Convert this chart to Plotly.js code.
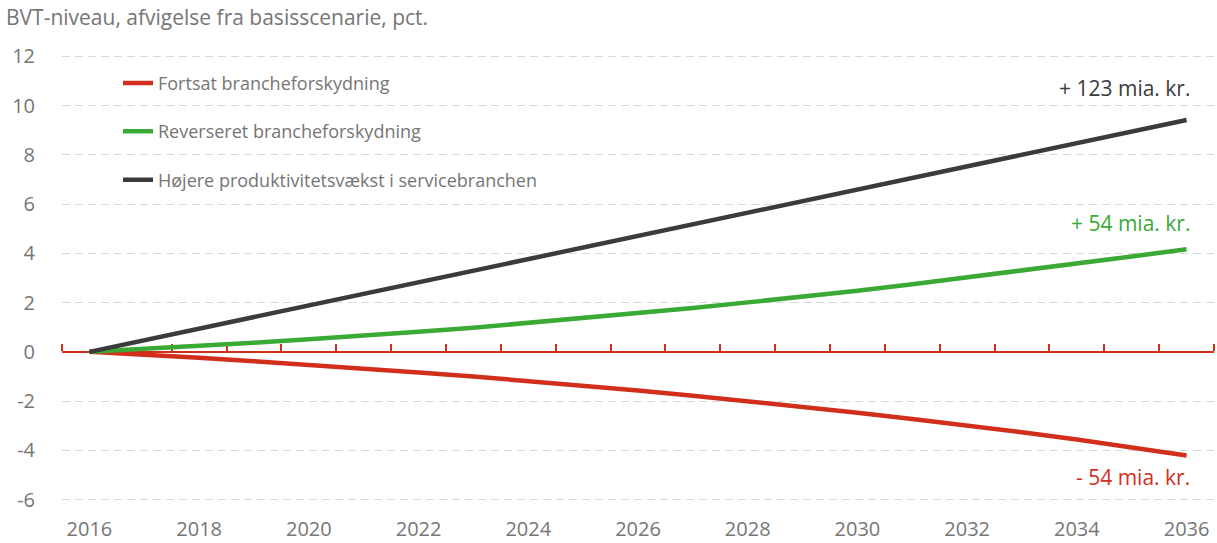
<!DOCTYPE html>
<html>
<head>
<meta charset="utf-8">
<script src="https://cdn.plot.ly/plotly-3.0.1.min.js"></script>
<style>
  html, body { margin: 0; padding: 0; background: #fff; }
  #plot_div { width: 1217px; height: 543px; }
</style>
</head>
<body>
<div id="plot_div"></div>
<script>
// years on the x axis
const years = [2016, 2017, 2018, 2019, 2020, 2021, 2022, 2023, 2024, 2025, 2026,
               2027, 2028, 2029, 2030, 2031, 2032, 2033, 2034, 2035, 2036];

// BVT-niveau, afvigelse fra basisscenarie (pct.)
const fortsat = [0, -0.11, -0.24, -0.38, -0.52, -0.67, -0.84, -1.00, -1.18, -1.37, -1.57,
                 -1.78, -2.00, -2.23, -2.47, -2.73, -2.99, -3.27, -3.56, -3.88, -4.21];
const reverseret = [0, 0.11, 0.24, 0.37, 0.51, 0.65, 0.82, 0.98, 1.17, 1.36, 1.57,
                    1.78, 2.01, 2.24, 2.48, 2.75, 3.02, 3.30, 3.58, 3.87, 4.17];
const produktivitet = [0, 0.47, 0.94, 1.41, 1.88, 2.36, 2.83, 3.30, 3.77, 4.24, 4.71,
                       5.18, 5.65, 6.12, 6.59, 7.07, 7.54, 8.01, 8.48, 8.95, 9.42];

const series_names = ['Fortsat brancheforskydning', 'Reverseret brancheforskydning',
                      'Højere produktivitetsvækst i servicebranchen'];
const end_labels = ['- 54 mia. kr.', '+ 54 mia. kr.', '+ 123 mia. kr.'];

const x_ticks = [2016, 2018, 2020, 2022, 2024, 2026, 2028, 2030, 2032, 2034, 2036];
const y_ticks = [-6, -4, -2, 0, 2, 4, 6, 8, 10, 12];
// category boundaries for the small marks on the zero line
const boundaries = [...years, 2037].map(y => y - 0.5);

const RED = '#d12f1c';
const GREEN = '#3aaa35';
const DARK = '#3b3b3b';
const GREY = '#767676';
const FONT = '"Open Sans", Lato, sans-serif';

const colors = [RED, GREEN, DARK];
const values = [fortsat, reverseret, produktivitet];

const data = values.map((v, i) => ({
    x: years,
    y: v,
    name: series_names[i],
    type: 'scatter',
    mode: 'lines',
    legendgroup: 'g' + i,
    line: {color: colors[i], width: 4.5},
    hoverinfo: 'skip',
}));

// end-of-line labels, placed from the last data point
const label_shift = [-22, 26, 32];
const annotations = values.map((v, i) => ({
    x: years[years.length - 1],
    y: v[v.length - 1],
    xref: 'x', yref: 'y',
    text: end_labels[i],
    showarrow: false,
    xanchor: 'right',
    xshift: 5,
    yshift: label_shift[i],
    font: {family: FONT, size: 21, color: colors[i]},
}));

const layout = {
    width: 1217,
    height: 543,
    margin: {l: 62, r: 3, t: 54, b: 41},
    paper_bgcolor: '#fff',
    plot_bgcolor: '#fff',
    font: {family: FONT, size: 20, color: GREY},
    title: {
        text: 'BVT-niveau, afvigelse fra basisscenarie, pct.',
        x: 6 / 1217, xanchor: 'left', xref: 'container',
        y: 1 - 18 / 543, yanchor: 'middle', yref: 'container',
        font: {family: FONT, size: 21, color: GREY},
    },
    xaxis: {
        range: [2015.5, 2036.5],
        tickvals: x_ticks,
        ticktext: x_ticks.map(String),
        showgrid: false,
        zeroline: false,
        showline: false,
        ticks: 'outside',
        ticklen: 9,
        tickcolor: 'rgba(0,0,0,0)',
        tickfont: {family: FONT, size: 20, color: GREY},
        fixedrange: true,
    },
    // zero line with category tick marks
    xaxis2: {
        overlaying: 'x',
        anchor: 'free',
        position: 6.1 / 18.2,
        side: 'top',
        range: [2015.5, 2036.5],
        tickvals: boundaries,
        showticklabels: false,
        showgrid: false,
        zeroline: false,
        showline: true,
        linecolor: RED,
        linewidth: 2,
        ticks: 'outside',
        ticklen: 7,
        tickwidth: 2,
        tickcolor: RED,
        layer: 'below traces',
        fixedrange: true,
    },
    yaxis: {
        range: [-6.1, 12.1],
        tickvals: y_ticks,
        ticktext: y_ticks.map(String),
        showgrid: true,
        gridcolor: '#d9d9d9',
        gridwidth: 1,
        griddash: '8px,5px',
        zeroline: false,
        showline: false,
        ticks: 'outside',
        ticklen: 22,
        tickcolor: 'rgba(0,0,0,0)',
        tickfont: {family: FONT, size: 20, color: GREY},
        fixedrange: true,
    },
    showlegend: true,
    legend: {
        x: 56 / 1152, xanchor: 'left',
        y: 0.976, yanchor: 'top',
        bgcolor: 'rgba(0,0,0,0)',
        traceorder: 'grouped',
        tracegroupgap: 22,
        font: {family: FONT, size: 18, color: GREY},
    },
    annotations,
};

// dummy trace so xaxis2 gets drawn
data.push({x: [2016], y: [null], xaxis: 'x2', yaxis: 'y', showlegend: false, hoverinfo: 'skip', mode: 'lines'});

Plotly.newPlot('plot_div', data, layout, {displayModeBar: false, responsive: false});
</script>
</body>
</html>
